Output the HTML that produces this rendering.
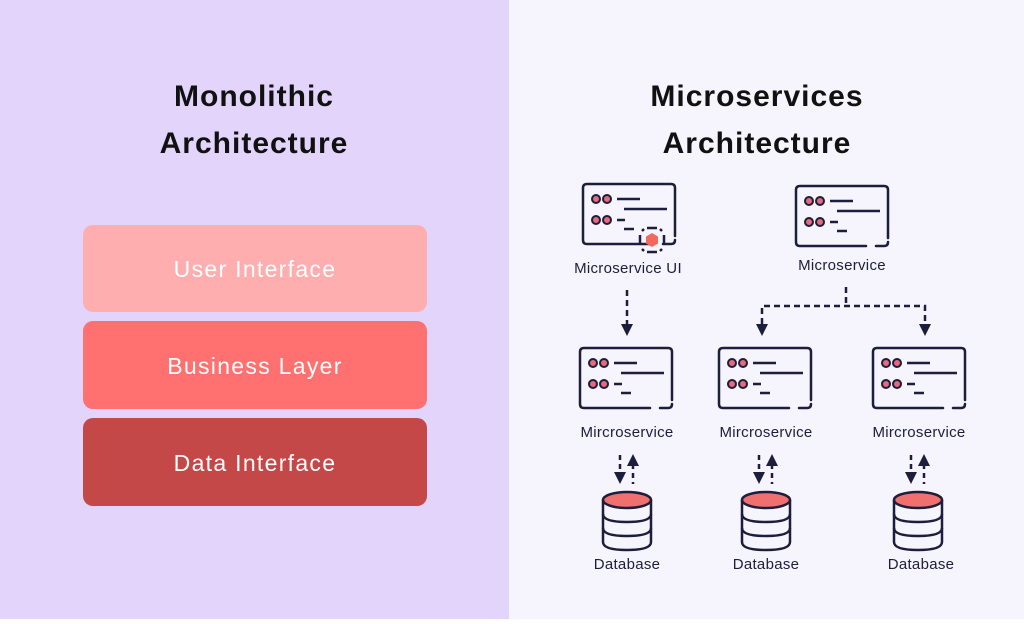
<!DOCTYPE html>
<html><head><meta charset="utf-8"><style>
html,body{margin:0;padding:0;}
body{width:1024px;height:619px;overflow:hidden;font-family:"Liberation Sans",sans-serif;}
</style></head><body>
<svg width="1024" height="619" viewBox="0 0 1024 619" xmlns="http://www.w3.org/2000/svg" font-family="Liberation Sans, sans-serif">
<defs>
<g id="card">
  <path d="M4 0 H88 Q92 0 92 4 V52 M92 56 Q92 60 88 60 H80 M70 60 H4 Q0 60 0 56 V4 Q0 0 4 0" fill="none" stroke="#1d1d3d" stroke-width="2.5" stroke-linecap="round"/>
  <g fill="#e56a7a" stroke="#1d1d3d" stroke-width="2">
    <circle cx="13" cy="15" r="4"/><circle cx="24" cy="15" r="4"/>
    <circle cx="13" cy="36" r="4"/><circle cx="24" cy="36" r="4"/>
  </g>
  <g stroke="#1d1d3d" stroke-width="2.5">
    <line x1="34" y1="15" x2="57" y2="15"/><line x1="41" y1="25" x2="84" y2="25"/>
    <line x1="34" y1="36" x2="42" y2="36"/><line x1="41" y1="45" x2="51" y2="45"/>
  </g>
</g>
<g id="db">
  <path d="M-24 0 V42 Q-24 50 0 50 Q24 50 24 42 V0" fill="#f6f4fc" stroke="#1d1d3d" stroke-width="2.5"/>
  <path d="M-24 14 Q-24 22 0 22 Q24 22 24 14 M-24 28 Q-24 36 0 36 Q24 36 24 28" fill="none" stroke="#1d1d3d" stroke-width="2.5"/>
  <ellipse cx="0" cy="0" rx="24" ry="8" fill="#f07070" stroke="#1d1d3d" stroke-width="2.5"/>
</g>
<g id="dbl">
  <line x1="-7" y1="455" x2="-7" y2="474" stroke="#1d1d3d" stroke-width="2.5" stroke-dasharray="5,4"/>
  <path d="M-13 472 L-1 472 L-7 484 Z" fill="#1d1d3d"/>
  <line x1="6" y1="464" x2="6" y2="484" stroke="#1d1d3d" stroke-width="2.5" stroke-dasharray="5,4"/>
  <path d="M0 466 L12 466 L6 454 Z" fill="#1d1d3d"/>
</g>
</defs>
<rect x="0" y="0" width="509" height="619" fill="#e3d4fc"/>
<rect x="509" y="0" width="515" height="619" fill="#f6f4fc"/>

<g font-weight="bold" font-size="30" fill="#111" text-anchor="middle" letter-spacing="1">
  <text x="254" y="106">Monolithic</text>
  <text x="254" y="153">Architecture</text>
  <text x="757" y="106">Microservices</text>
  <text x="757" y="153">Architecture</text>
</g>

<rect x="83" y="225" width="344" height="87" rx="10" fill="#feaeae"/>
<rect x="83" y="321" width="344" height="88" rx="10" fill="#ff7070"/>
<rect x="83" y="418" width="344" height="88" rx="10" fill="#c44848"/>
<g fill="#fff" font-size="23" text-anchor="middle" letter-spacing="1.3">
  <text x="255" y="277">User Interface</text>
  <text x="255" y="374">Business Layer</text>
  <text x="255" y="471">Data Interface</text>
</g>

<use href="#card" x="583" y="184"/>
<g transform="translate(652,240)">
  <path d="M-5 -12 L5 -12 M-5 12 L5 12 M-12 -5 L-12 5 M12 -5 L12 5 M-10 -9 L-8 -11 M10 -9 L8 -11 M-10 9 L-8 11 M10 9 L8 11" stroke="#1d1d3d" stroke-width="2.5" fill="none"/>
  <polygon points="0,-7 6,-3.5 6,3.5 0,7 -6,3.5 -6,-3.5" fill="#f26a5e"/>
</g>
<use href="#card" x="796" y="186"/>
<use href="#card" x="580" y="348"/>
<use href="#card" x="719" y="348"/>
<use href="#card" x="873" y="348"/>

<g fill="#1d1d3d" font-size="15" text-anchor="middle" letter-spacing="0.3">
  <text x="628" y="273">Microservice UI</text>
  <text x="842" y="270">Microservice</text>
  <text x="627" y="437">Mircroservice</text>
  <text x="766" y="437">Mircroservice</text>
  <text x="919" y="437">Mircroservice</text>
  <text x="627" y="569">Database</text>
  <text x="766" y="569">Database</text>
  <text x="921" y="569">Database</text>
</g>

<g stroke="#1d1d3d" stroke-width="2.5" fill="none" stroke-dasharray="6,4">
  <line x1="627" y1="290" x2="627" y2="326"/>
  <line x1="846" y1="287" x2="846" y2="305"/>
  <path d="M762 324 V306 H925 V324"/>
</g>
<g fill="#1d1d3d">
  <path d="M621 324 L633 324 L627 336 Z"/>
  <path d="M756 324 L768 324 L762 336 Z"/>
  <path d="M919 324 L931 324 L925 336 Z"/>
</g>

<use href="#dbl" x="627" y="0"/>
<use href="#dbl" x="766" y="0"/>
<use href="#dbl" x="918" y="0"/>

<use href="#db" x="627" y="500"/>
<use href="#db" x="766" y="500"/>
<use href="#db" x="918" y="500"/>
</svg>
</body></html>
